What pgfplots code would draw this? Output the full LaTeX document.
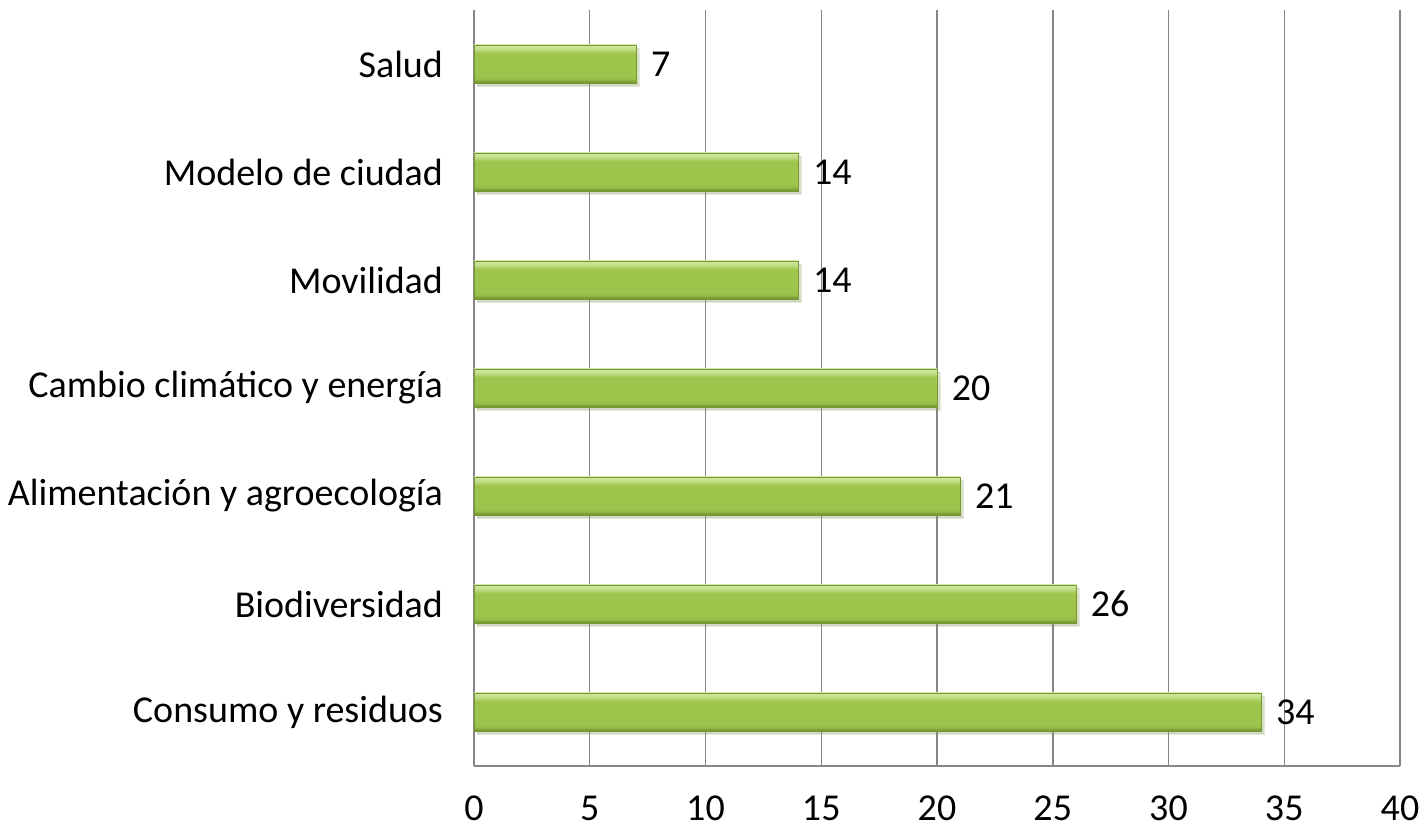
\documentclass[border=0pt]{standalone}
\usepackage{pgfplots}
\pgfplotsset{compat=1.18}
\usetikzlibrary{shadows}
\usepackage{fontspec}
\setmainfont{Carlito}
\definecolor{gridc}{HTML}{868686}
\definecolor{bartop}{HTML}{C4E08A}
\definecolor{barmid}{HTML}{9DC54B}
\definecolor{barbot}{HTML}{6E8E2B}
\definecolor{baredge}{HTML}{7A9838}
\pgfdeclareverticalshading{barshade}{100bp}{color(0bp)=(barbot); color(25bp)=(barbot); color(30bp)=(barmid!85!barbot); color(34bp)=(barmid); color(64bp)=(barmid); color(70bp)=(bartop); color(75bp)=(bartop!80!white); color(100bp)=(bartop)}
\begin{document}
\begin{tikzpicture}
\begin{axis}[
  scale only axis,
  width=463pt, height=378pt,
  xmin=0, xmax=40, ymin=-0.5, ymax=6.5,
  xtick={0,5,...,40},
  ytick={0,1,2,3,4,5,6},
  yticklabels={Consumo y residuos,Biodiversidad,Alimentación y agroecología,Cambio climático y energía,Movilidad,Modelo de ciudad,Salud},
  xmajorgrids,
  grid style={gridc, line width=0.75pt},
  axis line style={gridc, line width=0.75pt},
  axis lines*=left,
  major tick length=0pt,
  tick style={draw=none},
  every tick label/.append style={font=\fontsize{19}{21}\selectfont, text=black},
  /pgf/number format/assume math mode=true,
  yticklabel style={xshift=-12pt},
  xticklabel style={anchor=base, inner sep=0pt, yshift=-27.5pt},
  clip=false,
  barsty/.style={xbar, bar shift=0pt, bar width=19pt, draw=baredge, line width=0.3pt,
    shading=barshade,
    drop shadow={opacity=0.2, shadow xshift=1.5pt, shadow yshift=-1.5pt},
    nodes near coords, point meta=explicit symbolic,
    every node near coord/.append style={font=\fontsize{19}{21}\selectfont, text=black, anchor=west, xshift=4pt}},
]
\addplot[barsty] table[meta=l] {
x y l
34 0 34
};
\addplot[barsty] table[meta=l] {
x y l
26 1 26
};
\addplot[barsty] table[meta=l] {
x y l
21 2 21
};
\addplot[barsty] table[meta=l] {
x y l
20 3 20
};
\addplot[barsty] table[meta=l] {
x y l
14 4 14
};
\addplot[barsty] table[meta=l] {
x y l
14 5 14
};
\addplot[barsty] table[meta=l] {
x y l
7 6 7
};
\draw[gridc, line width=0.75pt] (rel axis cs:1,0) -- (rel axis cs:1,1);
\end{axis}
\pgfresetboundingbox
\path[use as bounding box] (current axis.south west) ++(-237pt,-35pt) rectangle ([shift={(13pt,5pt)}]current axis.north east);
\end{tikzpicture}
\end{document}
